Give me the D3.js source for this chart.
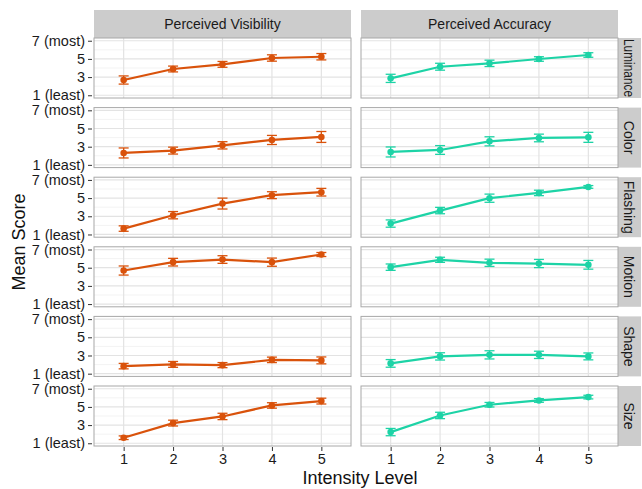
<!DOCTYPE html>
<html>
<head>
<meta charset="utf-8">
<script src="https://cdn.jsdelivr.net/npm/d3@7"></script>
<style>
body { margin: 0; background: #fff; }
text { font-family: "Liberation Sans", Arial, sans-serif; }
</style>
</head>
<body>
<svg id="chart" width="642" height="489"></svg>
<script>
// facet rows / columns
var cues = ["Luminance", "Color", "Flashing", "Motion", "Shape", "Size"];
var measures = ["Perceived Visibility", "Perceived Accuracy"];
var levels = [1, 2, 3, 4, 5];
var yTicks = [1, 3, 5, 7];
var yTickLabels = ["1 (least)", "3", "5", "7 (most)"];

// mean scores, one row per cue, levels 1..5
var visMean = [
	[2.68, 3.89, 4.40, 5.10, 5.24],
	[2.31, 2.57, 3.15, 3.74, 4.07],
	[1.65, 3.12, 4.40, 5.32, 5.65],
	[4.69, 5.61, 5.90, 5.61, 6.45],
	[1.83, 2.02, 1.94, 2.52, 2.46],
	[1.61, 3.22, 3.95, 5.16, 5.64]
];
var visErr = [
	[0.45, 0.32, 0.32, 0.35, 0.35],
	[0.55, 0.38, 0.40, 0.50, 0.60],
	[0.30, 0.40, 0.60, 0.38, 0.42],
	[0.50, 0.42, 0.42, 0.45, 0.22],
	[0.30, 0.32, 0.28, 0.30, 0.38],
	[0.20, 0.32, 0.35, 0.30, 0.32]
];
var accMean = [
	[2.86, 4.14, 4.51, 4.99, 5.43],
	[2.42, 2.64, 3.59, 3.96, 4.03],
	[2.20, 3.63, 4.99, 5.57, 6.23],
	[5.06, 5.87, 5.54, 5.46, 5.32],
	[2.13, 2.90, 3.07, 3.07, 2.90],
	[2.23, 4.06, 5.24, 5.71, 6.08]
];
var accErr = [
	[0.45, 0.38, 0.35, 0.25, 0.25],
	[0.55, 0.48, 0.50, 0.42, 0.55],
	[0.40, 0.35, 0.45, 0.30, 0.15],
	[0.35, 0.28, 0.40, 0.45, 0.48],
	[0.42, 0.40, 0.45, 0.40, 0.38],
	[0.40, 0.35, 0.25, 0.20, 0.20]
];
var colours = ["#d9520b", "#1dd3a6"];

var svg = d3.select("#chart");

var colLeft = [94, 361];
var panelW = 257;
var panelH = 60;
var rowStep = 69.6;
var top0 = 38;

var x = d3.scaleLinear().domain([0.4, 5.6]).range([0, panelW]);
var y = d3.scaleLinear().domain([0.7, 7.3]).range([panelH, 0]);

// column strips
measures.forEach(function(m, c) {
	svg.append("rect")
		.attr("x", colLeft[c]).attr("y", 10)
		.attr("width", panelW).attr("height", 28)
		.style("fill", "#cccccc");
	svg.append("text")
		.attr("x", colLeft[c] + panelW / 2).attr("y", 29)
		.attr("text-anchor", "middle")
		.style("font-size", "14px").style("fill", "#1a1a1a")
		.text(m);
});

cues.forEach(function(cue, r) {
	var ty = top0 + r * rowStep;

	// row strip on the right
	svg.append("rect")
		.attr("x", 618).attr("y", ty)
		.attr("width", 23).attr("height", panelH)
		.style("fill", "#cccccc");
	var st = svg.append("text")
		.attr("transform", "translate(624," + (ty + panelH / 2) + ") rotate(90)")
		.attr("text-anchor", "middle")
		.style("font-size", "14px").style("fill", "#1a1a1a")
		.text(cue);
	if (st.node().getComputedTextLength() > 58) { // squeeze long labels into the strip
		st.attr("textLength", 58).attr("lengthAdjust", "spacingAndGlyphs");
	}

	[visMean, accMean].forEach(function(means, c) {
		var errs = c == 0 ? visErr : accErr;
		var g = svg.append("g").attr("transform", "translate(" + colLeft[c] + "," + ty + ")");

		// minor grid
		g.selectAll(".minor").data([2, 4, 6]).enter().append("line")
			.attr("x1", 0).attr("x2", panelW)
			.attr("y1", function(d) { return y(d); }).attr("y2", function(d) { return y(d); })
			.style("stroke", "#f3f3f3").style("stroke-width", 1);
		// major grid
		g.selectAll(".hmaj").data(yTicks).enter().append("line")
			.attr("x1", 0).attr("x2", panelW)
			.attr("y1", function(d) { return y(d); }).attr("y2", function(d) { return y(d); })
			.style("stroke", "#e3e3e3").style("stroke-width", 1.2);
		g.selectAll(".vmaj").data(levels).enter().append("line")
			.attr("y1", 0).attr("y2", panelH)
			.attr("x1", function(d) { return x(d); }).attr("x2", function(d) { return x(d); })
			.style("stroke", "#e3e3e3").style("stroke-width", 1.2);

		var pts = levels.map(function(l, i) {
			return { level: l, mean: means[r][i], err: errs[r][i] };
		});

		var line = d3.line()
			.x(function(d) { return x(d.level); })
			.y(function(d) { return y(d.mean); });

		g.append("path").datum(pts)
			.attr("d", line)
			.style("fill", "none").style("stroke", colours[c]).style("stroke-width", 2.2);

		// error bars
		var eb = g.selectAll(".eb").data(pts).enter().append("g")
			.style("stroke", colours[c]).style("stroke-width", 1.3);
		eb.append("line")
			.attr("x1", function(d) { return x(d.level); }).attr("x2", function(d) { return x(d.level); })
			.attr("y1", function(d) { return y(d.mean - d.err); }).attr("y2", function(d) { return y(d.mean + d.err); });
		eb.append("line")
			.attr("x1", function(d) { return x(d.level) - 5; }).attr("x2", function(d) { return x(d.level) + 5; })
			.attr("y1", function(d) { return y(d.mean - d.err); }).attr("y2", function(d) { return y(d.mean - d.err); });
		eb.append("line")
			.attr("x1", function(d) { return x(d.level) - 5; }).attr("x2", function(d) { return x(d.level) + 5; })
			.attr("y1", function(d) { return y(d.mean + d.err); }).attr("y2", function(d) { return y(d.mean + d.err); });

		g.selectAll(".pt").data(pts).enter().append("circle")
			.attr("cx", function(d) { return x(d.level); })
			.attr("cy", function(d) { return y(d.mean); })
			.attr("r", 3.3)
			.style("fill", colours[c]);

		// panel border
		g.append("rect")
			.attr("width", panelW).attr("height", panelH)
			.style("fill", "none").style("stroke", "#a8a8a8").style("stroke-width", 1);

		// y axis on left column only
		if (c == 0) {
			var yAxis = d3.axisLeft(y).tickValues(yTicks).tickSize(4).tickPadding(3)
				.tickFormat(function(d, i) { return yTickLabels[i]; });
			var ya = g.append("g").attr("transform", "translate(-2,0)").call(yAxis);
			ya.select(".domain").remove();
			ya.selectAll("line").style("stroke", "#333");
			ya.selectAll("text").style("font-size", "14.5px").style("fill", "#1a1a1a")
				.style("font-family", "'Liberation Sans', Arial, sans-serif");
		}
		// x axis on bottom row only
		if (r == cues.length - 1) {
			var xAxis = d3.axisBottom(x).tickValues(levels).tickSize(4).tickPadding(3)
				.tickFormat(d3.format("d"));
			var xa = g.append("g").attr("transform", "translate(0," + (panelH + 1) + ")").call(xAxis);
			xa.select(".domain").remove();
			xa.selectAll("line").style("stroke", "#333");
			xa.selectAll("text").style("font-size", "14.5px").style("fill", "#1a1a1a")
				.style("font-family", "'Liberation Sans', Arial, sans-serif");
		}
	});
});

// axis titles
svg.append("text")
	.attr("x", 360).attr("y", 484)
	.attr("text-anchor", "middle")
	.style("font-size", "18px").style("fill", "#111")
	.text("Intensity Level");

svg.append("text")
	.attr("transform", "translate(25,242) rotate(-90)")
	.attr("text-anchor", "middle")
	.style("font-size", "18px").style("fill", "#111")
	.text("Mean Score");
</script>
</body>
</html>
